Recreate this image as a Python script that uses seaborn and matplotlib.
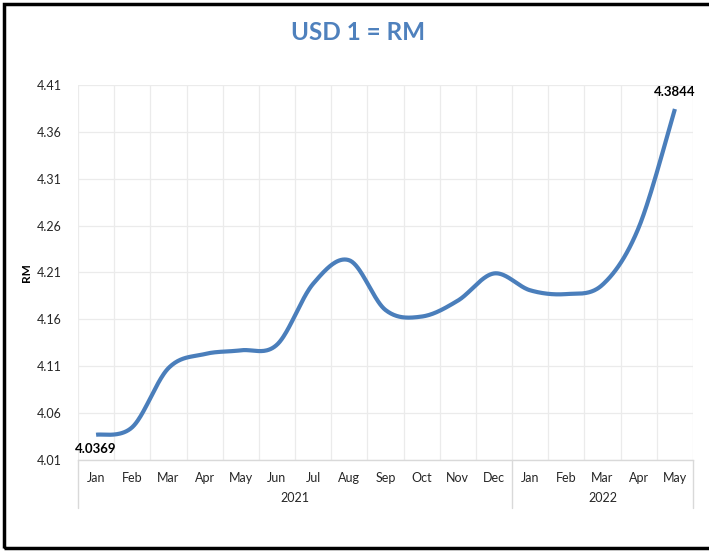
import numpy as np
import pandas as pd
import seaborn as sns
import matplotlib.pyplot as plt
from matplotlib.patches import Rectangle
from matplotlib.transforms import blended_transform_factory

# Données
months = ["Jan", "Feb", "Mar", "Apr", "May", "Jun", "Jul", "Aug", "Sep", "Oct", "Nov", "Dec",
          "Jan", "Feb", "Mar", "Apr", "May"]
years = ["2021", "2022"]
months_per_year = [12, 5]
rates = [4.0369, 4.045, 4.108, 4.123, 4.127, 4.133, 4.198, 4.223, 4.170, 4.163, 4.180, 4.209,
         4.191, 4.187, 4.197, 4.258, 4.3844]
y_ticks = [4.01, 4.06, 4.11, 4.16, 4.21, 4.26, 4.31, 4.36, 4.41]

LINE_COLOR = "#4a7ebb"
GRID_COLOR = "#ebebeb"
AXIS_COLOR = "#d9d9d9"
TEXT_COLOR = "#262626"


def smooth_curve(x, y, sx, sy, n=40):
    """Lissage type Excel (Bezier Catmull-Rom) calculé en coordonnées écran."""
    px = np.asarray(x, float) * sx
    py = np.asarray(y, float) * sy
    pts = np.column_stack([px, py])
    pts_ext = np.vstack([pts[0], pts, pts[-1]])
    out = []
    t = np.linspace(0, 1, n)[:, None]
    for i in range(len(pts) - 1):
        p0, p1, p2, p3 = pts_ext[i], pts_ext[i + 1], pts_ext[i + 2], pts_ext[i + 3]
        b1 = p1 + (p2 - p0) / 6
        b2 = p2 - (p3 - p1) / 6
        seg = ((1 - t) ** 3) * p1 + 3 * ((1 - t) ** 2) * t * b1 + 3 * (1 - t) * t ** 2 * b2 + t ** 3 * p2
        out.append(seg if i == 0 else seg[1:])
    out = np.vstack(out)
    return out[:, 0] / sx, out[:, 1] / sy


sns.set_theme(style="white")
plt.rcParams["font.family"] = ["Lato", "DejaVu Sans"]

W, H = 709, 552
fig = plt.figure(figsize=(W / 100, H / 100), dpi=100)
ax_left, ax_right, ax_top, ax_bottom = 78, 693, 85, 460
ax = fig.add_axes([ax_left / W, 1 - ax_bottom / H, (ax_right - ax_left) / W, (ax_bottom - ax_top) / H])

x_idx = np.arange(len(months))
px_per_x = (ax_right - ax_left) / len(months)
px_per_y = (ax_bottom - ax_top) / (y_ticks[-1] - y_ticks[0])
sm_x, sm_y = smooth_curve(x_idx, rates, px_per_x, px_per_y)
df = pd.DataFrame({"pos": sm_x, "rate": sm_y})

sns.lineplot(data=df, x="pos", y="rate", ax=ax, color=LINE_COLOR, linewidth=3.0,
             sort=False, estimator=None, solid_capstyle="butt")

ax.set_xlim(-0.5, len(months) - 0.5)
ax.set_ylim(y_ticks[0], y_ticks[-1])
ax.set_yticks(y_ticks)
ax.set_yticklabels([f"{v:.2f}" for v in y_ticks], fontsize=9, color=TEXT_COLOR)
ax.set_xticks(x_idx)
ax.set_xticklabels(months, fontsize=9, color=TEXT_COLOR)
ax.set_xticks(np.arange(-0.5, len(months), 1.0), minor=True)
ax.tick_params(axis="y", length=0, pad=12)
ax.tick_params(axis="x", which="both", length=0, pad=9)

ax.grid(False)
ax.grid(True, axis="y", which="major", color=GRID_COLOR, linewidth=0.9)
ax.grid(True, axis="x", which="minor", color=GRID_COLOR, linewidth=0.9)
for side in ["top", "right", "left"]:
    ax.spines[side].set_visible(False)
ax.spines["bottom"].set_color(AXIS_COLOR)
ax.spines["bottom"].set_linewidth(1.0)

ax.set_xlabel("")
ax.set_ylabel("RM", fontsize=8.5, fontweight="bold", color="black")
ax.yaxis.set_label_coords(-(ax_left - 32) / (ax_right - ax_left), 0.5)

# Étiquettes d'années et séparateurs
trans = blended_transform_factory(ax.transData, ax.transAxes)
sep_depth = -(508 - ax_bottom) / (ax_bottom - ax_top)
start = -0.5
bounds = [start]
for name, count in zip(years, months_per_year):
    ax.text(start + count / 2, -(498 - ax_bottom) / (ax_bottom - ax_top), name,
            transform=trans, ha="center", va="center", fontsize=9, color=TEXT_COLOR)
    start += count
    bounds.append(start)
for b in bounds:
    ax.plot([b, b], [0, sep_depth], transform=trans, color=AXIS_COLOR, linewidth=1.0, clip_on=False)

# Valeurs de début et de fin
ax.annotate(f"{rates[0]:.4f}", (x_idx[0], rates[0]), xytext=(0, -10), textcoords="offset points",
            ha="center", va="center", fontsize=9.5, fontweight="bold", color="black")
ax.annotate(f"{rates[-1]:.4f}", (x_idx[-1], rates[-1]), xytext=(0, 12), textcoords="offset points",
            ha="center", va="center", fontsize=9.5, fontweight="bold", color="black")

fig.text(358 / W, 1 - 32 / H, "USD 1 = RM", ha="center", va="center",
         fontsize=17.5, fontweight="bold", color="#4f81bd")

fig.patches.append(Rectangle((4 / W, 4 / H), 1.0, 1 - 8 / H, transform=fig.transFigure,
                             fill=False, edgecolor="black", linewidth=2.5))

fig.savefig("out.png", dpi=100)
plt.close(fig)
